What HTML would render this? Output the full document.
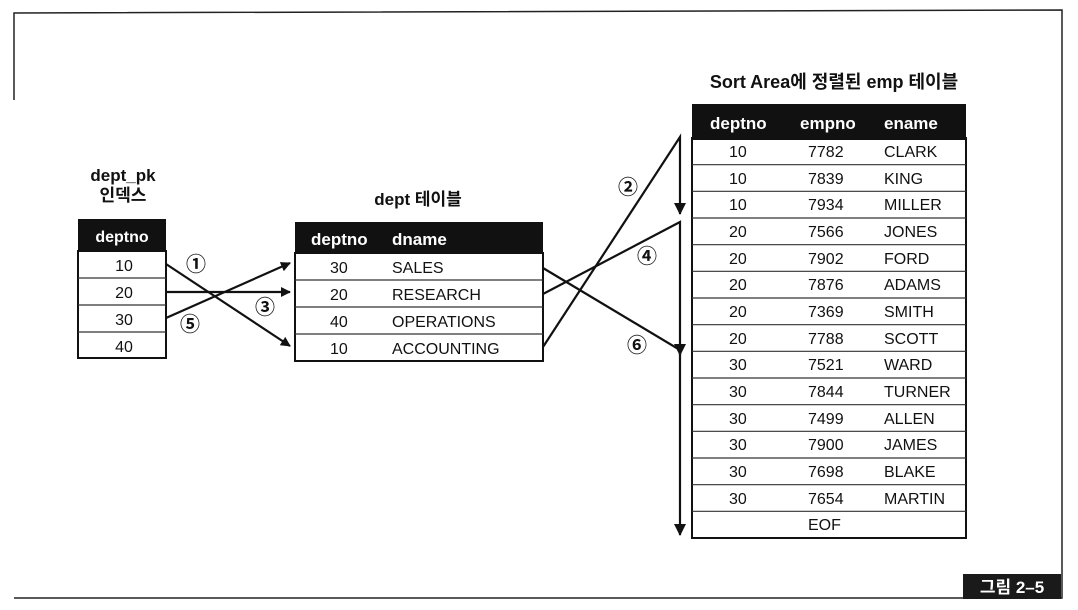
<!DOCTYPE html>
<html><head><meta charset="utf-8"><style>
body{margin:0;background:#fff;}
svg{display:block;}
text{font-family:"Liberation Sans","Noto Sans CJK KR",sans-serif;fill:#111;}
</style></head><body>
<svg width="1078" height="610" viewBox="0 0 1078 610">
<defs><marker id="a" markerWidth="10" markerHeight="10" refX="9" refY="5" orient="auto" markerUnits="userSpaceOnUse"><path d="M0,0 L10,5 L0,10 z" fill="#111"/></marker>
<marker id="b" markerWidth="12" markerHeight="14" refX="11" refY="6" orient="auto" markerUnits="userSpaceOnUse"><path d="M0,0 L12,6 L0,12 z" fill="#111"/></marker></defs>
<!-- frame -->
<path d="M14,100 L14,13 L1062,10 L1062,598 L14,598" fill="none" stroke="#222" stroke-width="1.5"/>
<rect x="963" y="574" width="98" height="25" fill="#1a1a1a"/>
<text x="1012" y="593" font-size="17" font-weight="bold" text-anchor="middle" style="fill:#fff">그림 2–5</text>

<!-- titles -->
<text x="123" y="181" font-size="17" font-weight="bold" text-anchor="middle">dept_pk</text>
<text x="123" y="201" font-size="17" font-weight="bold" text-anchor="middle">인덱스</text>
<text x="418" y="205" font-size="17" font-weight="bold" text-anchor="middle">dept 테이블</text>
<text x="834" y="88" font-size="18" font-weight="bold" text-anchor="middle">Sort Area에 정렬된 emp 테이블</text>

<!-- left table -->
<rect x="78" y="219" width="88" height="32" fill="#111"/>
<text x="122" y="242" font-size="16" font-weight="bold" text-anchor="middle" style="fill:#fff">deptno</text>
<rect x="78" y="251" width="88" height="107" fill="none" stroke="#111" stroke-width="2"/>
<g stroke="#333" stroke-width="1.2"><line x1="78" y1="278" x2="166" y2="278"/><line x1="78" y1="305" x2="166" y2="305"/><line x1="78" y1="332" x2="166" y2="332"/></g>
<g font-size="16" text-anchor="middle"><text x="124" y="271">10</text><text x="124" y="298">20</text><text x="124" y="325">30</text><text x="124" y="352">40</text></g>

<!-- dept table -->
<rect x="295" y="222" width="248" height="31" fill="#111"/>
<text x="311" y="245" font-size="17" font-weight="bold" style="fill:#fff">deptno</text>
<text x="392" y="245" font-size="17" font-weight="bold" style="fill:#fff">dname</text>
<rect x="295" y="253" width="248" height="108" fill="none" stroke="#111" stroke-width="2"/>
<g stroke="#333" stroke-width="1.2"><line x1="295" y1="280" x2="543" y2="280"/><line x1="295" y1="307" x2="543" y2="307"/><line x1="295" y1="334" x2="543" y2="334"/></g>
<g font-size="16"><text x="330" y="273">30</text><text x="392" y="273">SALES</text>
<text x="330" y="300">20</text><text x="392" y="300">RESEARCH</text>
<text x="330" y="327">40</text><text x="392" y="327">OPERATIONS</text>
<text x="330" y="354">10</text><text x="392" y="354">ACCOUNTING</text></g>

<!-- emp table -->
<rect x="692" y="104" width="274" height="36" fill="#111"/>
<g font-size="17" font-weight="bold"><text x="710" y="129" style="fill:#fff">deptno</text><text x="800" y="129" style="fill:#fff">empno</text><text x="884" y="129" style="fill:#fff">ename</text></g>
<rect x="692" y="138" width="274" height="400" fill="none" stroke="#111" stroke-width="2"/>
<g stroke="#333" stroke-width="1.2">
<line x1="692" y1="164.7" x2="966" y2="164.7"/><line x1="692" y1="191.3" x2="966" y2="191.3"/><line x1="692" y1="218" x2="966" y2="218"/><line x1="692" y1="244.7" x2="966" y2="244.7"/><line x1="692" y1="271.3" x2="966" y2="271.3"/><line x1="692" y1="298" x2="966" y2="298"/><line x1="692" y1="324.7" x2="966" y2="324.7"/><line x1="692" y1="351.3" x2="966" y2="351.3"/><line x1="692" y1="378" x2="966" y2="378"/><line x1="692" y1="404.7" x2="966" y2="404.7"/><line x1="692" y1="431.3" x2="966" y2="431.3"/><line x1="692" y1="458" x2="966" y2="458"/><line x1="692" y1="484.7" x2="966" y2="484.7"/><line x1="692" y1="511.3" x2="966" y2="511.3"/>
</g>
<g font-size="16">
<text x="729" y="157">10</text><text x="808" y="157">7782</text><text x="884" y="157">CLARK</text>
<text x="729" y="184">10</text><text x="808" y="184">7839</text><text x="884" y="184">KING</text>
<text x="729" y="210">10</text><text x="808" y="210">7934</text><text x="884" y="210">MILLER</text>
<text x="729" y="237">20</text><text x="808" y="237">7566</text><text x="884" y="237">JONES</text>
<text x="729" y="264">20</text><text x="808" y="264">7902</text><text x="884" y="264">FORD</text>
<text x="729" y="290">20</text><text x="808" y="290">7876</text><text x="884" y="290">ADAMS</text>
<text x="729" y="317">20</text><text x="808" y="317">7369</text><text x="884" y="317">SMITH</text>
<text x="729" y="344">20</text><text x="808" y="344">7788</text><text x="884" y="344">SCOTT</text>
<text x="729" y="370">30</text><text x="808" y="370">7521</text><text x="884" y="370">WARD</text>
<text x="729" y="397">30</text><text x="808" y="397">7844</text><text x="884" y="397">TURNER</text>
<text x="729" y="424">30</text><text x="808" y="424">7499</text><text x="884" y="424">ALLEN</text>
<text x="729" y="450">30</text><text x="808" y="450">7900</text><text x="884" y="450">JAMES</text>
<text x="729" y="477">30</text><text x="808" y="477">7698</text><text x="884" y="477">BLAKE</text>
<text x="729" y="504">30</text><text x="808" y="504">7654</text><text x="884" y="504">MARTIN</text>
<text x="808" y="530">EOF</text>
</g>

<!-- arrows -->
<g stroke="#111" stroke-width="2.2" fill="none">
<line x1="166" y1="264" x2="290" y2="346" marker-end="url(#a)"/>
<line x1="166" y1="292" x2="290" y2="292" marker-end="url(#a)"/>
<line x1="166" y1="318" x2="290" y2="263" marker-end="url(#a)"/>
<polyline points="543,347 680,137 680,214" marker-end="url(#b)"/>
<polyline points="543,294 680,222 680,355" marker-end="url(#b)"/>
<polyline points="543,268 680,350 680,535" marker-end="url(#b)"/>
</g>
<g font-size="20" font-weight="bold" text-anchor="middle">
<text x="196" y="271">①</text><text x="265" y="314">③</text><text x="190" y="331">⑤</text>
<text x="628" y="194">②</text><text x="647" y="263">④</text><text x="637" y="352">⑥</text>
</g>
</svg>
</body></html>
